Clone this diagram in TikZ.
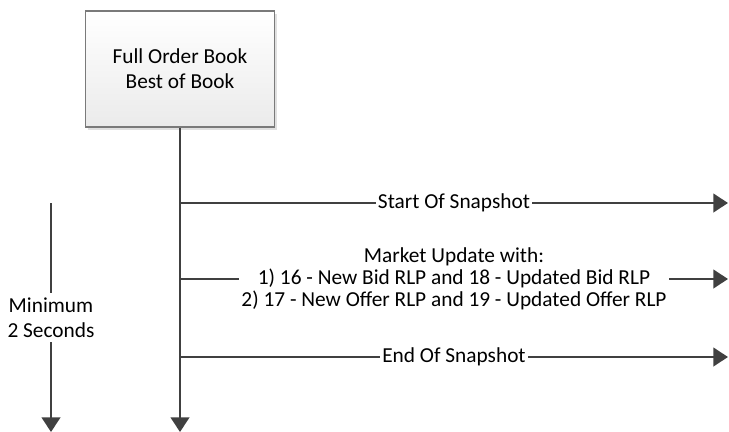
\documentclass[tikz,border=0pt]{standalone}
\usepackage{fontspec}
\setmainfont{Carlito}
\usetikzlibrary{arrows.meta,shadows}
\definecolor{linegray}{HTML}{404040}
\definecolor{boxgray}{HTML}{7A7A7A}

\begin{document}
\begin{tikzpicture}[x=0.75pt, y=-0.75pt,
  font=\fontsize{16}{18}\selectfont,
  line/.style={draw=linegray, line width=1.6pt},
  msg/.style={line, -{Triangle[length=11pt,width=14pt]}},
  lbl/.style={fill=white, inner sep=1.5pt, align=center}
]
\useasboundingbox (0,0) rectangle (729,432);
% book box
\node[draw=boxgray, line width=0.8pt, top color=white, bottom color=black!8,
  drop shadow={shadow xshift=2pt, shadow yshift=-2pt, fill=black!12, opacity=1},
  minimum width=141.5pt, minimum height=87pt, align=center,
  font=\fontsize{16}{19}\selectfont] (book) at (180,69) {Full Order Book\\Best of Book};
\coordinate (life) at (180,432);
\coordinate (s0) at (180,203); \coordinate (s1) at (728,203);
\coordinate (m0) at (180,279); \coordinate (m1) at (728,279);
\coordinate (e0) at (180,357); \coordinate (e1) at (728,357);
\coordinate (t0) at (51,203);  \coordinate (t1) at (51,432);
% lifeline and messages
\draw[msg] (book.south) -- (life);
\draw[msg] (s0) -- node[lbl] (start) {Start Of Snapshot} (s1);
\draw[msg] (m0) -- node[lbl, inner sep=2pt, font=\fontsize{16}{16.5}\selectfont] (update)
  {Market Update with:\\1) 16 - New Bid RLP and 18 - Updated Bid RLP\\2) 17 - New Offer RLP and 19 - Updated Offer RLP} (m1);
\draw[msg] (e0) -- node[lbl] (end) {End Of Snapshot} (e1);
% minimum interval
\draw[msg] (t0) -- node[lbl, inner sep=3pt, font=\fontsize{16}{19}\selectfont] (minint) {Minimum\\2 Seconds} (t1);
\end{tikzpicture}
\end{document}
